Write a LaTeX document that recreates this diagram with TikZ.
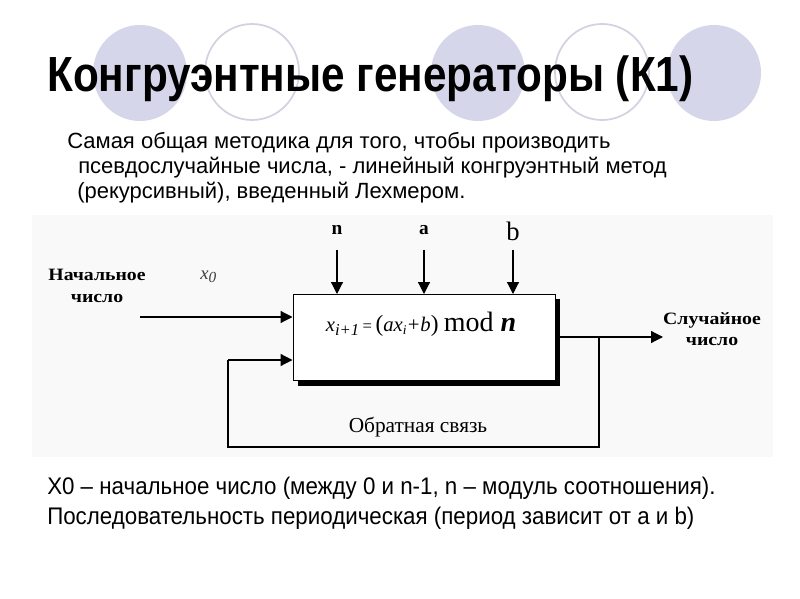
\documentclass[tikz,border=0pt]{standalone}
\usepackage{fontspec}
\setmainfont{Liberation Sans}
\newfontfamily\serifbody{Liberation Serif}
\usetikzlibrary{arrows.meta}
\definecolor{lav}{RGB}{214,214,234}
\definecolor{lavline}{RGB}{210,210,226}
\definecolor{diagbg}{RGB}{249,249,249}
\definecolor{xgray}{RGB}{60,60,60}
\begin{document}
\begin{tikzpicture}[x=0.75pt,y=-0.75pt,
  arr/.style={-{Triangle[length=9pt,width=9pt]}, line width=0.9pt},
  thinline/.style={line width=0.9pt},
  fillcirc/.style={fill=lav, draw=none},
  opencirc/.style={draw=lavline, line width=1.3pt, fill=none},
  lbl/.style={inner sep=0pt, font=\serifbody\bfseries\fontsize{13}{15}\selectfont},
  toplbl/.style={inner sep=0pt, font=\serifbody\bfseries\fontsize{14.5}{16}\selectfont},
  body/.style={inner sep=0pt, anchor=base west, font=\fontsize{16.5}{19}\selectfont},
  foot/.style={inner sep=0pt, anchor=base west, font=\fontsize{18}{20}\selectfont}]
\useasboundingbox (0,0) rectangle (800,599);
\fill[white] (0,0) rectangle (800,599);
% decorative circles
\path[fillcirc] (140,73) ellipse [x radius=47, y radius=48];
\path[opencirc] (252,72) ellipse [x radius=47, y radius=48];
\path[fillcirc] (478,73) ellipse [x radius=47, y radius=48];
\path[opencirc] (602,72) ellipse [x radius=47, y radius=48];
\path[fillcirc] (714,73) ellipse [x radius=47, y radius=48];
% title
\node[inner sep=0pt, anchor=base west, font=\bfseries\fontsize{37}{40}\selectfont] (title) at (47,92)
  {\scalebox{0.857}[1]{Конгруэнтные генераторы (К1)}};
% subtitle
\node[body] (s1) at (67,149) {Самая общая методика для того, чтобы производить};
\node[body] (s2) at (78,174) {псевдослучайные числа, - линейный конгруэнтный метод};
\node[body] (s3) at (77,199) {(рекурсивный), введенный Лехмером.};
% diagram background
\fill[diagbg] (32,215) rectangle (773,457);
% shadow and box
\fill[black] (298,299) rectangle (560,386);
\node[draw, fill=white, line width=0.75pt, minimum width=196.5pt, minimum height=64.5pt, inner sep=0pt] (gen) at (424,337.5) {};
\node[inner sep=0pt, anchor=base] (formula) at (421,331)
  {\serifbody\fontsize{15.5}{17}\selectfont\textit{x}\raisebox{-3.5pt}{\fontsize{12.5}{14}\selectfont\textit{i+1}}\,{\fontsize{12.5}{14}\selectfont=}\,{\fontsize{17.5}{18}\selectfont(}\textit{ax}\raisebox{-2.5pt}{\fontsize{10}{12}\selectfont\textit{i}}\textit{+b}{\fontsize{17.5}{18}\selectfont)}\ {\fontsize{21}{22}\selectfont mod \textbf{\textit{n}}}};
% labels
\node[lbl, anchor=base] (start1) at (97,281) {\scalebox{1.14}[1]{Начальное}};
\node[lbl, anchor=base] (start2) at (97,302) {\scalebox{1.14}[1]{число}};
\node[inner sep=0pt, anchor=base west, text=xgray, font=\serifbody\itshape\fontsize{14}{16}\selectfont] (x0) at (200,279) {x\raisebox{-2.5pt}{\fontsize{11.5}{13}\selectfont 0}};
\node[toplbl, anchor=base] (ln) at (337,235) {n};
\node[toplbl, anchor=base] (la) at (424,235) {a};
\node[inner sep=0pt, anchor=base, font=\serifbody\fontsize{20}{22}\selectfont] (lb) at (513,241) {b};
\node[lbl, anchor=base] (rnd1) at (712,324) {\scalebox{1.14}[1]{Случайное}};
\node[lbl, anchor=base] (rnd2) at (712,345) {\scalebox{1.14}[1]{число}};
\node[inner sep=0pt, anchor=base, font=\serifbody\fontsize{16}{18}\selectfont] (fb) at (418,432) {Обратная связь};
% connector points
\coordinate (inS) at (140,317);
\coordinate (nT) at (337,250);
\coordinate (aT) at (424,250);
\coordinate (bT) at (513,250);
\coordinate (outT) at (663,337);
\coordinate (fbJ) at (599,337);
\coordinate (fbA) at (599,447);
\coordinate (fbB) at (228,447);
\coordinate (fbC) at (228,360);
% connectors
\draw[arr] (inS) -- (inS -| gen.west);
\draw[arr] (nT) -- (nT |- gen.north);
\draw[arr] (aT) -- (aT |- gen.north);
\draw[arr] (bT) -- (bT |- gen.north);
\draw[arr] (gen.east |- fbJ) -- (outT);
\draw[thinline] (fbJ) -- (fbA) -- (fbB) -- (fbC);
\draw[arr] (fbC) -- (fbC -| gen.west);
% footer
\node[foot] (f1) at (47,494) {\scalebox{0.93}[1]{X0 – начальное число (между 0 и n-1, n – модуль соотношения).}};
\node[foot] (f2) at (47,524) {\scalebox{0.93}[1]{Последовательность периодическая (период зависит от a и b)}};
\end{tikzpicture}
\end{document}
